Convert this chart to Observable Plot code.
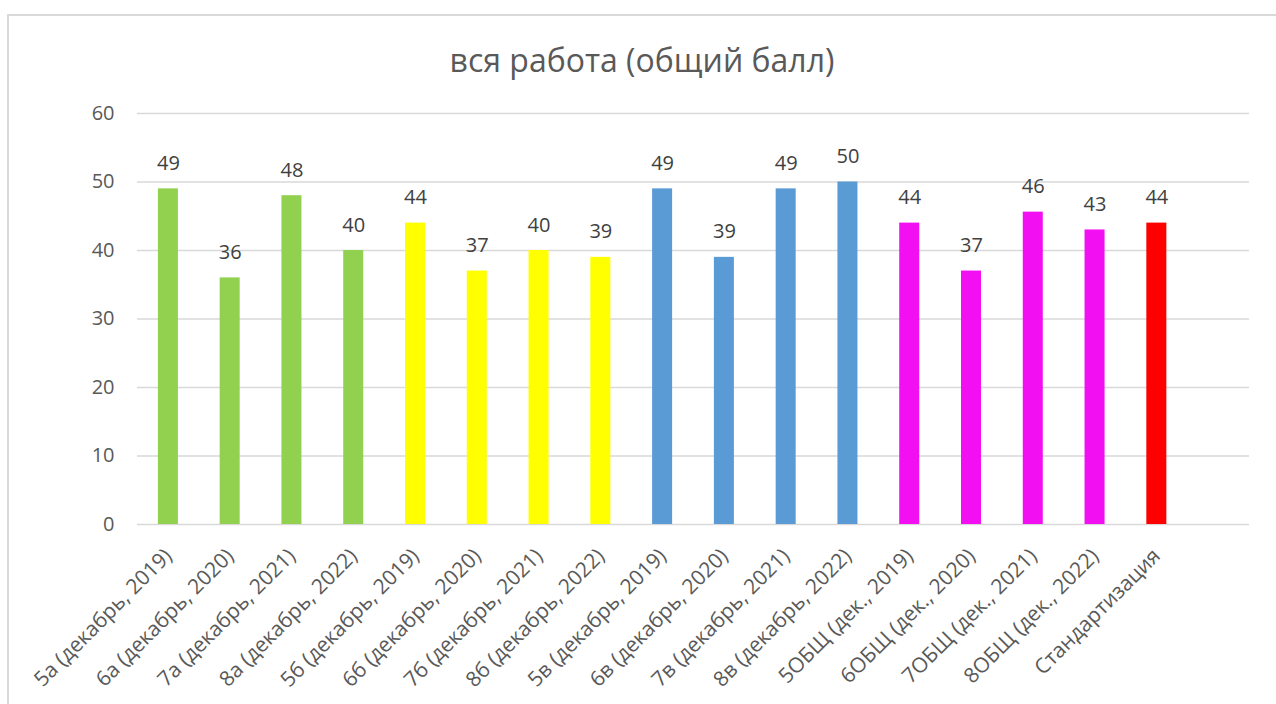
<!DOCTYPE html>
<html><head><meta charset="utf-8">
<script src="https://cdn.jsdelivr.net/npm/d3@7"></script>
<script src="https://cdn.jsdelivr.net/npm/@observablehq/plot@0.6"></script>
<style>
body{margin:0;background:#fff;}
#wrap{position:relative;width:1276px;height:704px;overflow:hidden;font-family:"Open Sans",sans-serif;background:#fff;}
#frame{position:absolute;left:7px;top:14px;width:1300px;height:720px;border-left:2px solid #d9d9d9;border-top:2px solid #d9d9d9;}
#title{position:absolute;left:8px;top:38px;width:1268px;text-align:center;font-size:32px;color:#595959;line-height:44px;}
#chart{position:absolute;left:0;top:0;}
</style></head>
<body>
<div id="wrap">
  <div id="frame"></div>
  <div id="chart"></div>
  <div id="title">вся работа (общий балл)</div>
</div>
<script>
const categories = [
  "5а (декабрь, 2019)", "6а (декабрь, 2020)", "7а (декабрь, 2021)", "8а (декабрь, 2022)",
  "5б (декабрь, 2019)", "6б (декабрь, 2020)", "7б (декабрь, 2021)", "8б (декабрь, 2022)",
  "5в (декабрь, 2019)", "6в (декабрь, 2020)", "7в (декабрь, 2021)", "8в (декабрь, 2022)",
  "5ОБЩ (дек., 2019)", "6ОБЩ (дек., 2020)", "7ОБЩ (дек., 2021)", "8ОБЩ (дек., 2022)",
  "Стандартизация"
];
const values = [49, 36, 48, 40, 44, 37, 40, 39, 49, 39, 49, 50, 44, 37, 45.6, 43, 44];
const groups = ["а","а","а","а","б","б","б","б","в","в","в","в","ОБЩ","ОБЩ","ОБЩ","ОБЩ","Стандартизация"];
const groupNames = ["а","б","в","ОБЩ","Стандартизация"];
const groupColors = ["#92d050","#ffff00","#5b9bd5","#f210f2","#ff0000"];
const yTicks = [0, 10, 20, 30, 40, 50, 60];

const data = categories.map((c, i) => ({category: c, value: values[i], group: groups[i]}));
const xDomain = [...categories, ""];

const chart = Plot.plot({
  width: 1276,
  height: 704,
  marginLeft: 137,
  marginRight: 27,
  marginTop: 113,
  marginBottom: 180,
  style: {fontFamily: "'Open Sans', sans-serif", fontSize: "20px", color: "#595959", background: "transparent"},
  x: {domain: xDomain, paddingInner: 0.676, paddingOuter: 0.338, round: false, label: null, axis: null},
  y: {domain: [0, 60], label: null, axis: null},
  color: {domain: groupNames, range: groupColors},
  marks: [
    Plot.gridY(yTicks, {stroke: "#d9d9d9", strokeOpacity: 1, strokeWidth: 1.5}),
    Plot.barY(data, {x: "category", y: "value", fill: "group"}),
    Plot.text(data, {x: "category", y: "value", text: d => d3.format(".0f")(d.value), dy: -19, lineAnchor: "bottom", fill: "#404040", fontSize: 20}),
    Plot.axisY(yTicks, {tickSize: 0, tickPadding: 23, fontSize: 20, fill: "#595959", label: null}),
    Plot.axisX(categories, {tickSize: 0, tickRotate: -45, tickPadding: 28, fontSize: 21, fill: "#595959", label: null})
  ]
});
document.getElementById("chart").appendChild(chart);
</script>
</body></html>
